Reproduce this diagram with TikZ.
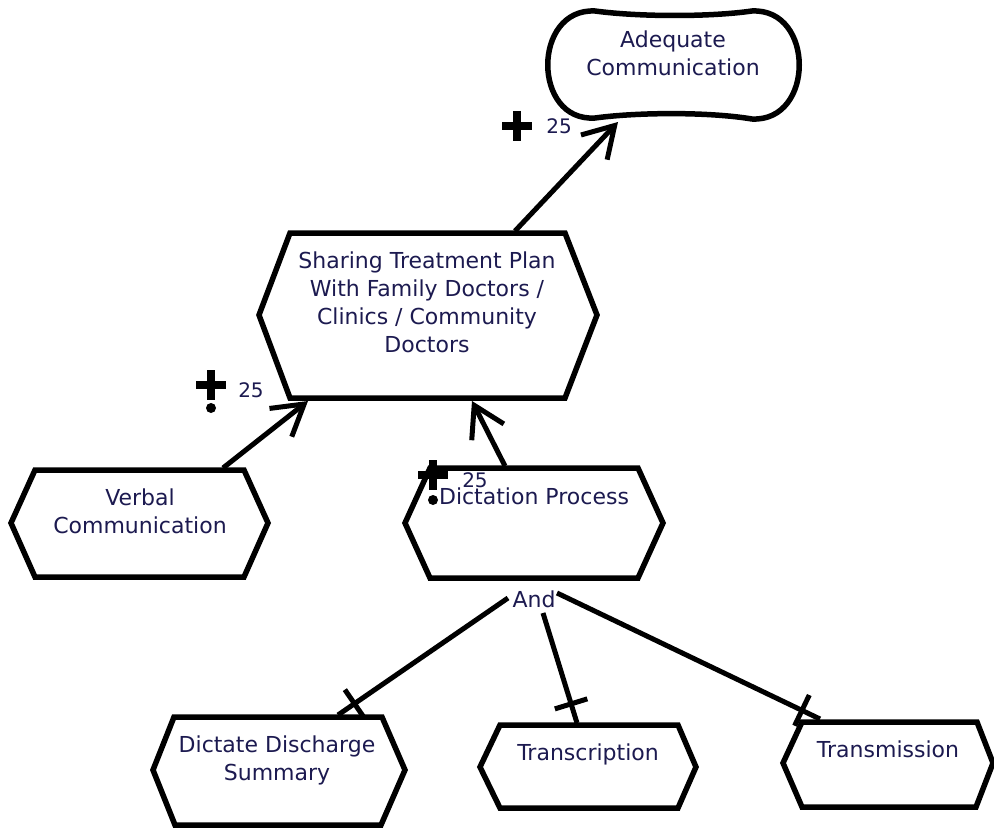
\documentclass[tikz,border=0pt]{standalone}
\usepackage{fontspec}
\setmainfont{DejaVu Sans}
\usetikzlibrary{arrows.meta,decorations.markings,calc}
\definecolor{txt}{RGB}{28,26,80}
\tikzset{
  shapeline/.style={draw=black, line width=5.5pt, line join=miter, fill=white},
  lbl/.style={font=\fontsize{22}{28}\selectfont, text=txt, align=center, inner sep=0pt},
  num/.style={font=\fontsize{20}{22}\selectfont, text=txt, inner sep=0pt},
  conn/.style={line width=5pt},
  contrib/.style={conn, -{Straight Barb[length=30pt,width=36pt]}},
  decomp/.style={conn, postaction={decorate},
    decoration={markings, mark=at position -20pt with {\draw[line width=5pt] (0pt,-17pt) -- (0pt,17pt);}}},
  plusbar/.style={line width=8.5pt},
}
\begin{document}
\begin{tikzpicture}[x=1pt,y=-1pt]
\useasboundingbox (0,0) rectangle (994,832);
\fill[white] (0,0) rectangle (994,832);

% goal: Adequate Communication
\draw[shapeline] (595,11) .. controls (640,17) and (710,17) .. (752,11)
  .. controls (815,8) and (815,122) .. (752,119)
  .. controls (710,112) and (640,112) .. (595,118)
  .. controls (532,122) and (532,8) .. (595,11) -- cycle;
\node[lbl, anchor=north] (adequate) at (673,31) {Adequate\\Communication};

% Sharing Treatment Plan
\draw[shapeline] (259,315) -- (290,233) -- (565,233) -- (597,315) -- (565,398) -- (290,398) -- cycle;
\node[lbl, anchor=north] (sharing) at (427,252) {Sharing Treatment Plan\\With Family Doctors /\\Clinics / Community\\Doctors};

% Verbal Communication
\draw[shapeline] (11,523) -- (35,470) -- (244,470) -- (268,523) -- (244,577) -- (35,577) -- cycle;
\node[lbl, anchor=north] (verbal) at (140,489) {Verbal\\Communication};

% Dictation Process
\draw[shapeline] (405,523) -- (430,468) -- (638,468) -- (663,523) -- (638,578) -- (430,578) -- cycle;
\node[lbl, anchor=north] (dictation) at (534,488) {Dictation Process};

% Dictate Discharge Summary
\draw[shapeline] (153,770) -- (174,717) -- (382,717) -- (405,770) -- (381,825) -- (175,825) -- cycle;
\node[lbl, anchor=north] (dictate) at (277,736) {Dictate Discharge\\Summary};

% Transcription
\draw[shapeline] (480,767) -- (500,725) -- (678,725) -- (696,767) -- (678,808) -- (500,808) -- cycle;
\node[lbl, anchor=north] (transcription) at (588,744) {Transcription};

% Transmission
\draw[shapeline] (783,763) -- (802,722) -- (977,722) -- (993,763) -- (976,807) -- (802,807) -- cycle;
\node[lbl, anchor=north] (transmission) at (888,741) {Transmission};

% And label
\node[lbl] (and) at (534,599) {And};

% connector end points
\coordinate (sharing-out) at (515,231);
\coordinate (adequate-in) at (618,122);
\coordinate (verbal-out) at (223,468);
\coordinate (sharing-in1) at (308,401);
\coordinate (dictation-out) at (505,466);
\coordinate (sharing-in2) at (472,401);
\coordinate (and-l) at (508,598);
\coordinate (and-m) at (543,613);
\coordinate (and-r) at (557,593);
\coordinate (dictate-in) at (338,715);
\coordinate (transcription-in) at (577,723);
\coordinate (transmission-in) at (820,719);

\draw[contrib] (sharing-out) -- (adequate-in);
\draw[contrib] (verbal-out) -- (sharing-in1);
\draw[contrib] (dictation-out) -- (sharing-in2);

\draw[decomp] (and-l) -- (dictate-in);
\draw[decomp] (and-m) -- (transcription-in);
\draw[decomp] (and-r) -- (transmission-in);

% contribution labels
\coordinate (p1) at (517,126);
\draw[plusbar] ($(p1)+(-15,0)$) -- ($(p1)+(15,0)$) ($(p1)+(0,-15)$) -- ($(p1)+(0,15)$);
\node[num] (w1) at (559,126) {25};

\coordinate (p2) at (211,385);
\draw[plusbar] ($(p2)+(-15,0)$) -- ($(p2)+(15,0)$) ($(p2)+(0,-15)$) -- ($(p2)+(0,15)$);
\fill (211,408) circle (5pt);
\node[num] (w2) at (251,390) {25};

\coordinate (p3) at (433,475);
\draw[plusbar] ($(p3)+(-15,0)$) -- ($(p3)+(15,0)$) ($(p3)+(0,-15)$) -- ($(p3)+(0,15)$);
\fill (433,500) circle (5pt);
\node[num] (w3) at (475,480) {25};
\end{tikzpicture}
\end{document}
